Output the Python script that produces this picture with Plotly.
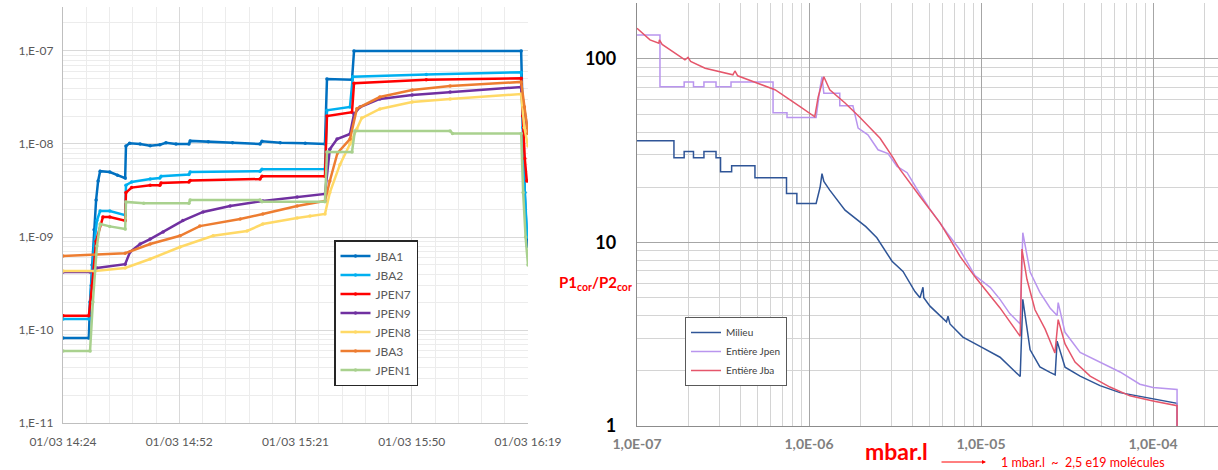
import plotly.graph_objects as go

W, H = 1218, 470
FONT = "Lato"

# ---------------- Left chart: time (minutes after 01/03 14:24) vs pressure ----------------
time_ticks_min = [0, 28.8, 57.6, 86.4, 115.2]
time_tick_labels = ["01/03 14:24", "01/03 14:52", "01/03 15:21", "01/03 15:50", "01/03 16:19"]
left_ytick_vals = [1e-11, 1e-10, 1e-9, 1e-8, 1e-7]
left_ytick_labels = ["1,E-11", "1,E-10", "1,E-09", "1,E-08", "1,E-07"]

left_names = ["JBA1", "JBA2", "JPEN7", "JPEN9", "JPEN8", "JBA3", "JPEN1"]
left_colors = ["#0070C0", "#00B0F0", "#FF0000", "#7030A0", "#FFD966", "#ED7D31", "#A9D18E"]

jba1_t = [0, 6.4, 6.7, 7.2, 7.7, 8.2, 8.7, 9.2, 11.6, 13.5, 15.4, 15.6, 16.5, 19.1, 21.6, 24.0, 25.5, 28.0,
          31.2, 31.5, 36.0, 42.0, 48.8, 49.3, 53.8, 60.0, 64.9, 65.4, 71.6, 72.1, 113.5, 113.9, 114.4, 115.0]
jba1_v = [8.2e-11, 8.2e-11, 2.0e-10, 5.0e-10, 1.2e-9, 2.5e-9, 4.0e-9, 5.1e-9, 5.0e-9, 4.6e-9, 4.3e-9, 9.5e-9,
          1.02e-8, 1.0e-8, 9.6e-9, 9.8e-9, 1.03e-8, 1.0e-8, 1.0e-8, 1.08e-8, 1.06e-8, 1.03e-8, 1.0e-8, 1.07e-8,
          1.03e-8, 1.02e-8, 1.0e-8, 5.0e-8, 4.9e-8, 1.0e-7, 1.0e-7, 2.0e-8, 3.0e-9, 8.0e-10]

jba2_t = [0, 6.4, 7.0, 7.7, 8.4, 9.2, 11.6, 15.4, 15.6, 17.0, 21.6, 24.0, 24.3, 31.2, 31.5, 48.8, 49.3, 64.9,
          65.4, 71.1, 71.8, 90.0, 113.5, 113.9, 114.4, 115.0]
jba2_v = [1.31e-10, 1.31e-10, 3.0e-10, 8.0e-10, 1.5e-9, 1.9e-9, 1.9e-9, 1.72e-9, 3.6e-9, 3.9e-9, 4.2e-9, 4.3e-9,
          4.5e-9, 4.7e-9, 5.0e-9, 5.1e-9, 5.35e-9, 5.38e-9, 2.3e-8, 2.5e-8, 5.3e-8, 5.6e-8, 5.9e-8, 1.5e-8,
          3.0e-9, 1.0e-9]

jpen7_t = [0, 6.4, 7.2, 8.2, 9.9, 11.6, 15.4, 15.6, 17.0, 21.6, 24.0, 24.3, 31.2, 31.5, 48.8, 49.3, 64.9, 65.4,
           71.6, 72.1, 90.0, 113.5, 113.9, 114.4, 114.9]
jpen7_v = [1.42e-10, 1.42e-10, 3.0e-10, 9.0e-10, 1.64e-9, 1.64e-9, 1.5e-9, 3.0e-9, 3.4e-9, 3.6e-9, 3.6e-9, 3.8e-9,
           3.9e-9, 4.05e-9, 4.2e-9, 4.5e-9, 4.5e-9, 2.0e-8, 2.2e-8, 4.5e-8, 4.9e-8, 5.1e-8, 2.0e-8, 7.0e-9, 4.0e-9]

jpen9_t = [0, 6.7, 8.4, 15.4, 16.6, 19.1, 21.6, 24.8, 29.7, 34.7, 41.4, 49.5, 58.0, 64.9, 66.1, 67.9, 71.1, 72.1,
           73.6, 78.5, 86.5, 95.9, 113.5, 114.2, 115.0]
jpen9_v = [4.2e-10, 4.2e-10, 4.64e-10, 5.1e-10, 6.9e-10, 8.4e-10, 9.5e-10, 1.13e-9, 1.5e-9, 1.86e-9, 2.15e-9,
           2.44e-9, 2.69e-9, 2.9e-9, 8.8e-9, 1.13e-8, 1.28e-8, 2.1e-8, 2.5e-8, 3.05e-8, 3.37e-8, 3.62e-8, 4.1e-8,
           2.5e-8, 1.5e-8]

jpen8_t = [0, 7.9, 15.4, 21.6, 29.0, 37.2, 45.6, 49.5, 58.0, 61.2, 64.9, 66.1, 68.6, 71.1, 72.8, 74.0, 78.5, 86.5,
           95.9, 113.5, 114.3, 115.2]
jpen8_v = [4.3e-10, 4.3e-10, 4.64e-10, 5.8e-10, 7.8e-10, 1.03e-9, 1.16e-9, 1.38e-9, 1.6e-9, 1.68e-9, 1.77e-9,
           3.0e-9, 6.0e-9, 1.0e-8, 1.45e-8, 1.9e-8, 2.38e-8, 2.83e-8, 3.05e-8, 3.45e-8, 1.5e-8, 9.5e-9]

jba3_t = [0, 15.4, 21.6, 29.0, 33.9, 43.9, 49.5, 58.0, 64.9, 66.1, 68.0, 71.1, 72.8, 78.5, 86.5, 95.9, 113.5,
          114.3, 115.2]
jba3_v = [6.25e-10, 6.7e-10, 8.4e-10, 1.03e-9, 1.31e-9, 1.56e-9, 1.77e-9, 2.15e-9, 2.44e-9, 4.0e-9, 8.0e-9,
          1.13e-8, 2.4e-8, 3.2e-8, 3.8e-8, 4.2e-8, 4.65e-8, 2.5e-8, 1.3e-8]

jpen1_t = [0, 6.7, 7.4, 8.4, 9.2, 11.6, 15.4, 15.6, 20.0, 31.2, 31.5, 48.8, 49.3, 64.9, 65.4, 71.6, 72.3, 95.9,
           96.5, 113.5, 114.0, 114.6, 115.2]
jpen1_v = [5.94e-11, 5.94e-11, 2.0e-10, 8.0e-10, 1.38e-9, 1.3e-9, 1.22e-9, 2.38e-9, 2.3e-9, 2.3e-9, 2.5e-9,
           2.5e-9, 2.4e-9, 2.4e-9, 8.2e-9, 8.2e-9, 1.38e-8, 1.38e-8, 1.3e-8, 1.3e-8, 3.0e-9, 1.0e-9, 5.0e-10]

left_t = [jba1_t, jba2_t, jpen7_t, jpen9_t, jpen8_t, jba3_t, jpen1_t]
left_v = [jba1_v, jba2_v, jpen7_v, jpen9_v, jpen8_v, jba3_v, jpen1_v]

# ---------------- Right chart: quantity (mbar.l) vs P1cor/P2cor ----------------
right_xtick_vals = [1e-7, 1e-6, 1e-5, 1e-4]
right_xtick_labels = ["1,0E-07", "1,0E-06", "1,0E-05", "1,0E-04"]
right_ytick_vals = [1, 10, 100]
right_ytick_labels = ["1", "10", "100"]

right_names = ["Milieu", "Entière Jpen", "Entière Jba"]
right_colors = ["#2F5597", "#B995EE", "#E5566B"]

milieu_x = [1.0e-7, 1.64e-7, 1.64e-7, 1.88e-7, 1.88e-7, 2.13e-7, 2.13e-7, 2.45e-7, 2.45e-7, 2.88e-7,
            2.88e-7, 3.06e-7, 3.06e-7, 3.55e-7, 3.55e-7, 4.85e-7, 4.85e-7, 7.4e-7, 7.4e-7, 8.5e-7,
            8.5e-7, 1.10e-6, 1.16e-6, 1.19e-6, 1.22e-6, 1.32e-6, 1.62e-6, 2.14e-6, 2.48e-6, 3.04e-6,
            3.52e-6, 4.13e-6, 4.42e-6, 4.60e-6, 4.65e-6, 5.05e-6, 6.3e-6, 6.43e-6, 6.6e-6, 7.85e-6,
            1.0e-5, 1.29e-5, 1.69e-5, 1.75e-5, 1.93e-5, 2.20e-5, 2.52e-5, 2.70e-5, 2.77e-5, 3.08e-5,
            3.77e-5, 4.92e-5, 6.43e-5, 1.0e-4, 1.38e-4, 1.38e-4]
milieu_y = [35.8, 35.8, 29.0, 29.0, 31.3, 31.3, 29.0, 29.0, 31.3, 31.3,
            29.0, 29.0, 24.3, 24.3, 26.2, 26.2, 22.5, 22.5, 18.5, 18.5,
            16.3, 16.3, 20.0, 23.7, 21.5, 19.3, 15.0, 12.2, 10.6, 7.9,
            6.95, 5.4, 5.0, 5.7, 5.0, 4.5, 3.7, 3.96, 3.6, 3.05,
            2.7, 2.37, 1.86, 4.9, 2.6, 2.1, 1.96, 1.9, 2.9, 2.09,
            1.87, 1.66, 1.52, 1.40, 1.33, 1.0]

jpen_x = [1.0e-7, 1.36e-7, 1.36e-7, 1.88e-7, 1.88e-7, 2.13e-7, 2.13e-7, 2.45e-7, 2.45e-7, 2.88e-7,
          2.88e-7, 3.52e-7, 3.52e-7, 6.18e-7, 6.18e-7, 7.45e-7, 7.45e-7, 1.10e-6, 1.16e-6, 1.19e-6,
          1.22e-6, 1.51e-6, 1.51e-6, 1.80e-6, 1.93e-6, 2.20e-6, 2.52e-6, 2.88e-6, 3.25e-6, 3.72e-6,
          4.25e-6, 5.05e-6, 6.34e-6, 7.55e-6, 9.23e-6, 1.13e-5, 1.29e-5, 1.47e-5, 1.69e-5, 1.75e-5,
          1.93e-5, 2.20e-5, 2.52e-5, 2.77e-5, 2.81e-5, 3.08e-5, 3.77e-5, 4.92e-5, 6.43e-5, 8.39e-5,
          1.0e-4, 1.38e-4, 1.38e-4]
jpen_y = [135, 135, 70.5, 70.5, 75, 75, 70.5, 70.5, 75, 75,
          70.5, 70.5, 75, 75, 51, 51, 48, 48, 70, 80,
          65, 65, 55.6, 55.6, 42, 38.6, 32, 30.5, 26, 24,
          19.5, 15.2, 11.3, 9.1, 6.6, 5.7, 4.9, 4.1, 3.6, 11.3,
          6.9, 5.35, 4.4, 4.0, 4.7, 3.24, 2.52, 2.23, 1.97, 1.69,
          1.62, 1.58, 1.0]

jba_x = [1.0e-7, 1.19e-7, 1.34e-7, 1.35e-7, 1.40e-7, 1.90e-7, 1.98e-7, 2.05e-7, 2.49e-7, 3.61e-7,
         3.71e-7, 3.85e-7, 4.98e-7, 6.34e-7, 8.87e-7, 1.08e-6, 1.13e-6, 1.22e-6, 1.32e-6, 1.62e-6,
         1.98e-6, 2.59e-6, 3.08e-6, 3.38e-6, 4.42e-6, 5.78e-6, 6.61e-6, 7.55e-6, 9.23e-6, 1.0e-5,
         1.29e-5, 1.69e-5, 1.73e-5, 1.85e-5, 2.06e-5, 2.36e-5, 2.69e-5, 2.81e-5, 3.08e-5, 3.52e-5,
         4.31e-5, 5.62e-5, 7.34e-5, 1.0e-4, 1.38e-4, 1.38e-4]
jba_y = [147, 127, 122, 127, 120, 99, 102, 97, 89, 82,
         86, 81, 74, 68, 55, 48.4, 62, 80, 68, 57.6,
         48, 37, 29, 25, 17.8, 12.8, 10.4, 8.4, 6.5, 5.9,
         4.4, 3.08, 9.2, 6.3, 4.3, 3.37, 2.5, 3.8, 2.8, 2.23,
         1.87, 1.63, 1.46, 1.37, 1.29, 1.0]

right_x = [milieu_x, jpen_x, jba_x]
right_y = [milieu_y, jpen_y, jba_y]


def px(x):
    return x / W


def py(y):
    return 1 - y / H


fig = go.Figure()

for name, color, t, v in zip(left_names, left_colors, left_t, left_v):
    fig.add_trace(go.Scatter(
        x=t, y=v, name=name, mode="lines+markers",
        line=dict(color=color, width=2.5),
        marker=dict(color=color, size=3.5),
        xaxis="x", yaxis="y", legend="legend",
    ))

for name, color, xs, ys in zip(right_names, right_colors, right_x, right_y):
    fig.add_trace(go.Scatter(
        x=xs, y=ys, name=name, mode="lines",
        line=dict(color=color, width=1.5),
        xaxis="x2", yaxis="y2", legend="legend2",
    ))

grey_txt = "#595959"

fig.update_layout(
    width=W, height=H,
    margin=dict(l=0, r=0, t=0, b=0, autoexpand=False),
    paper_bgcolor="white", plot_bgcolor="white",
    font=dict(family=FONT, color=grey_txt),
    xaxis=dict(
        domain=[px(63), px(528)], range=[0, 115.2], anchor="y", automargin=False,
        tickmode="array", tickvals=time_ticks_min, ticktext=time_tick_labels,
        tickfont=dict(size=12, color=grey_txt, family=FONT),
        showgrid=True, gridcolor="#d9d9d9", gridwidth=1.3,
        minor=dict(dtick=5.76, tick0=0, showgrid=True, gridcolor="#ececec", gridwidth=1),
        showline=True, linecolor="#bfbfbf", linewidth=1.3, zeroline=False,
        ticks="", ticklabelstandoff=7,
    ),
    yaxis=dict(
        domain=[py(423), py(7)], type="log", range=[-11, -6.527], anchor="x", automargin=False,
        tickmode="array", tickvals=left_ytick_vals, ticktext=left_ytick_labels,
        tickfont=dict(size=12, color=grey_txt, family=FONT),
        showgrid=True, gridcolor="#d9d9d9", gridwidth=1.3,
        minor=dict(dtick="D1", showgrid=True, gridcolor="#ececec", gridwidth=1),
        showline=True, linecolor="#bfbfbf", linewidth=1.3, zeroline=False,
        ticks="", ticklabelstandoff=6,
    ),
    xaxis2=dict(
        domain=[px(637), 1.0], type="log", range=[-7, -7 + (W - 637) / 172.0], anchor="y2", automargin=False,
        tickmode="array", tickvals=right_xtick_vals, ticktext=right_xtick_labels,
        tickfont=dict(size=14, color="#808080", family=FONT, weight="bold"),
        showgrid=True, gridcolor="#a6a6a6", gridwidth=1.2,
        minor=dict(dtick="D1", showgrid=True, gridcolor="#d4d4d4", gridwidth=1),
        showline=True, linecolor="#8c8c8c", linewidth=1.3, zeroline=False,
        ticks="", ticklabelstandoff=5,
    ),
    yaxis2=dict(
        domain=[py(426), py(3)], type="log", range=[0, 2.305], anchor="x2", automargin=False,
        tickmode="array", tickvals=right_ytick_vals, ticktext=right_ytick_labels,
        tickfont=dict(size=18, color="black", family=FONT, weight="bold"),
        showgrid=True, gridcolor="#a6a6a6", gridwidth=1.2,
        minor=dict(dtick="D1", showgrid=True, gridcolor="#d4d4d4", gridwidth=1),
        showline=True, linecolor="#8c8c8c", linewidth=1.3, zeroline=False,
        ticks="", ticklabelstandoff=16,
    ),
    legend=dict(
        x=px(334), y=py(240), xanchor="left", yanchor="top",
        bgcolor="white", bordercolor="#262626", borderwidth=1.5,
        font=dict(size=12, color=grey_txt, family=FONT),
        itemwidth=30, tracegroupgap=0,
    ),
    legend2=dict(
        x=px(685), y=py(317), xanchor="left", yanchor="top",
        bgcolor="white", bordercolor="#595959", borderwidth=1,
        font=dict(size=10, color="#404040", family=FONT),
        itemwidth=30, tracegroupgap=0,
    ),
    annotations=[
        dict(text="<b>P1<sub>cor</sub>/P2<sub>cor</sub></b>", x=px(595), y=py(283),
             xref="paper", yref="paper", xanchor="center", yanchor="middle", showarrow=False,
             font=dict(size=15, color="#FF0000", family=FONT)),
        dict(text="<b>mbar.l</b>", x=px(896), y=py(451),
             xref="paper", yref="paper", xanchor="center", yanchor="middle", showarrow=False,
             font=dict(size=23, color="#FF0000", family=FONT)),
        dict(text="", x=px(986), y=py(462), xref="paper", yref="paper",
             ax=-46, ay=0, axref="pixel", ayref="pixel", showarrow=True,
             arrowhead=2, arrowsize=0.8, arrowwidth=1, arrowcolor="#FF0000"),
        dict(text="1 mbar.l\u00a0 ~\u00a0 2,5 e19 molécules", x=px(1083), y=py(462),
             xref="paper", yref="paper", xanchor="center", yanchor="middle", showarrow=False,
             font=dict(size=12.5, color="#FF0000", family=FONT)),
    ],
)

fig.write_html("out.html")
